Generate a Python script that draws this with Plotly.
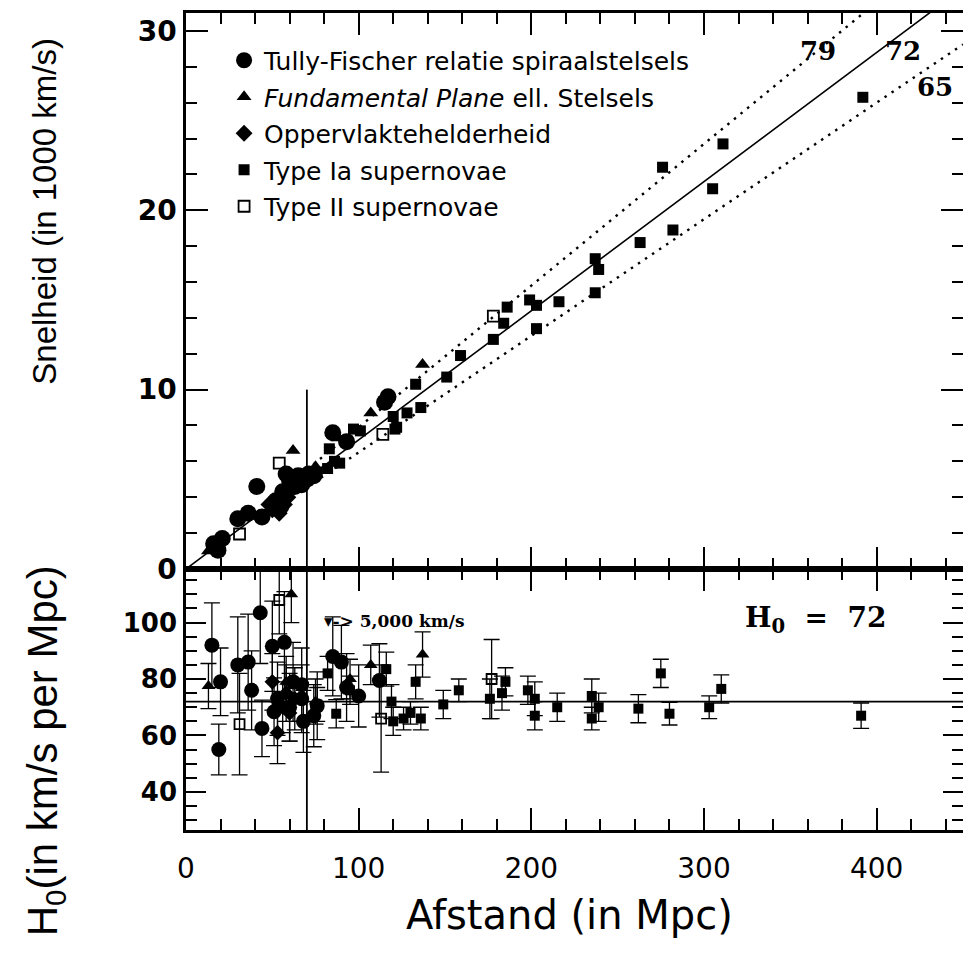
import plotly.graph_objects as go
from plotly.subplots import make_subplots

# ---------------- data ----------------
# upper panel: distance (Mpc) and velocity (1000 km/s)
tf_d = [16, 21, 18.5, 30, 36, 44, 41, 52, 55, 56, 58, 60, 63, 65, 67, 70, 71, 74, 85, 93, 115, 117]
tf_v = [1.4, 1.7, 1.05, 2.8, 3.1, 2.9, 4.6, 3.8, 3.5, 4.3, 5.3, 4.9, 4.6, 5.2, 4.7, 5.0, 5.3, 5.2, 7.6, 7.1, 9.3, 9.6]
fp_d = [13, 62, 75, 88, 107, 137]
fp_v = [1.0, 6.6, 5.7, 7.3, 8.7, 11.4]
sbf_d = [48, 50, 54, 57, 59, 61]
sbf_v = [3.6, 3.3, 3.1, 3.6, 4.0, 4.5]
sn1a_d = [76, 82, 83, 86, 89, 97, 101, 121, 120, 122, 128, 133, 136, 151, 159, 178, 184, 186,
          199, 203, 203, 216, 237, 239, 237, 263, 276, 282, 305, 311, 392]
sn1a_v = [5.4, 5.6, 6.7, 6.0, 5.9, 7.8, 7.7, 7.8, 8.5, 7.9, 8.7, 10.3, 9.0, 10.7, 11.9, 12.8, 13.7, 14.6,
          15.0, 14.7, 13.4, 14.9, 17.3, 16.7, 15.4, 18.2, 22.4, 18.9, 21.2, 23.7, 26.3]
sn2_d = [31, 54, 114, 178]
sn2_v = [1.95, 5.9, 7.5, 14.1]

# lower panel: distance (Mpc), H0 and its error
tf_hd = [15, 20, 19, 30, 36, 38, 44, 43, 50, 57, 53, 51, 62, 67, 68, 74, 76, 67, 85, 90, 93, 100, 112, 60]
tf_h = [92, 79, 55, 85, 86, 76, 62.5, 103.5, 91.6, 93, 73, 68.4, 79, 78, 65, 67, 70.5, 73, 88, 86, 77, 74, 79.5, 70]
tf_he = [15, 12, 9, 17, 17, 14, 10, 18, 16, 18, 13, 12, 14, 13, 11, 11, 12, 12, 14, 13, 12, 11, 13, 12]
fp_hd = [13, 61, 58, 75, 95, 107, 137]
fp_h = [77.5, 110, 79, 72, 80, 85, 88.7]
fp_he = [8, 10, 9, 8, 7, 7, 8]
sbf_hd = [50, 53, 56, 58, 60, 63]
sbf_h = [79, 61, 70, 75, 68, 73]
sbf_he = [10, 11, 9, 10, 10, 11]
sn1a_hd = [76, 82, 87, 95, 116, 119, 120, 126, 130, 133, 136, 149, 158, 176, 183, 185, 198, 202, 202,
           215, 235, 239, 235, 262, 275, 280, 303, 310, 391]
sn1a_h = [71, 82, 67.7, 76, 83.5, 72, 65, 66, 68, 79, 66, 71, 76, 73, 75, 79, 76, 73, 67,
          70, 74, 70, 66, 69.5, 82, 67.7, 70, 76.5, 67]
sn1a_he = [6, 6, 5, 5, 6, 6, 5, 4, 4, 6, 4, 5, 4, 7, 6, 5, 5, 6, 5,
           5, 6, 5, 4, 5, 5, 4, 4, 5, 4.5]
sn2_hd = [31, 54, 113, 177]
sn2_h = [64, 108, 66, 80]
sn2_he = [18, 12, 19, 14]

hubble_values = [79, 72, 65]
h0_fit = 72
d_range = [0, 450]
d_cut = 70
labels = ["Tully-Fischer relatie spiraalstelsels",
          "<i>Fundamental Plane</i> ell. Stelsels",
          "Oppervlaktehelderheid",
          "Type Ia supernovae",
          "Type II supernovae"]

# ---------------- figure ----------------
fig = make_subplots(rows=2, cols=1, shared_xaxes=True, vertical_spacing=0,
                    row_heights=[558, 262])

styles = [
    dict(symbol="circle", up=17, lo=15, lw=0),
    dict(symbol="triangle-up", up=13, lo=12, lw=0),
    dict(symbol="diamond", up=13, lo=12, lw=0),
    dict(symbol="square", up=11, lo=10, lw=0),
    dict(symbol="square-open", up=11, lo=10, lw=1.8),
]
up_sets = [(tf_d, tf_v), (fp_d, fp_v), (sbf_d, sbf_v), (sn1a_d, sn1a_v), (sn2_d, sn2_v)]
lo_sets = [(tf_hd, tf_h, tf_he), (fp_hd, fp_h, fp_he), (sbf_hd, sbf_h, sbf_he),
           (sn1a_hd, sn1a_h, sn1a_he), (sn2_hd, sn2_h, sn2_he)]

# model lines (upper)
for hv in hubble_values:
    start = 0 if hv == h0_fit else d_cut
    xs = [start, d_range[1]]
    ys = [hv * x / 1000 for x in xs]
    fig.add_trace(go.Scatter(x=xs, y=ys, mode="lines", showlegend=False, hoverinfo="skip",
                             line=dict(color="black", width=1.6 if hv == h0_fit else 2.4,
                                       dash="solid" if hv == h0_fit else "2.5px,6px")), row=1, col=1)
# H0 line (lower)
fig.add_trace(go.Scatter(x=d_range, y=[h0_fit, h0_fit], mode="lines", showlegend=False,
                         hoverinfo="skip", line=dict(color="black", width=1.8)), row=2, col=1)

for i, (lo, st) in enumerate(zip(lo_sets, styles)):
    fig.add_trace(go.Scatter(x=lo[0], y=lo[1], mode="markers", showlegend=False,
                             error_y=dict(type="data", array=lo[2], color="black", thickness=1.3, width=8),
                             marker=dict(symbol=st["symbol"], size=st["lo"], color="black",
                                         line=dict(color="black", width=st["lw"]))), row=2, col=1)

for i, (up, st) in enumerate(zip(up_sets, styles)):
    fig.add_trace(go.Scatter(x=up[0], y=up[1], mode="markers", name=labels[i],
                             legendgroup=f"g{i}",
                             marker=dict(symbol=st["symbol"], size=st["up"], color="black",
                                         line=dict(color="black", width=st["lw"]))), row=1, col=1)

axis_common = dict(showline=True, linecolor="black", linewidth=2.5, mirror="ticks",
                   ticks="inside", tickcolor="black", tickwidth=2, showgrid=False, zeroline=False)

fig.update_xaxes(range=d_range, dtick=100, tick0=0, ticklen=22,
                 minor=dict(dtick=20, ticks="inside", ticklen=11, tickcolor="black", tickwidth=1.6),
                 **axis_common)
fig.update_xaxes(showticklabels=False, row=1, col=1)
fig.update_xaxes(showticklabels=True, ticklabelstandoff=12,
                 tickfont=dict(family="DejaVu Sans", size=28, color="black"), row=2, col=1)
fig.update_yaxes(range=[0, 31], dtick=10, tick0=0, ticklen=22,
                 minor=dict(dtick=2, ticks="inside", ticklen=11, tickcolor="black", tickwidth=1.6),
                 ticklabelstandoff=1,
                 tickfont=dict(family="DejaVu Sans", size=28, color="black", weight="bold"),
                 row=1, col=1, **axis_common)
fig.update_yaxes(range=[26.5, 119], dtick=20, tick0=0, ticklen=20,
                 minor=dict(dtick=5, ticks="inside", ticklen=11, tickcolor="black", tickwidth=1.6),
                 ticklabelstandoff=1,
                 tickfont=dict(family="DejaVu Sans", size=26, color="black", weight="bold"),
                 row=2, col=1, **axis_common)

# vertical line at 5,000 km/s distance
fig.add_shape(type="line", x0=d_cut, x1=d_cut, y0=0, y1=10, xref="x", yref="y",
              line=dict(color="black", width=1.8))
fig.add_shape(type="line", x0=d_cut, x1=d_cut, y0=0, y1=1, xref="x2", yref="y2 domain",
              line=dict(color="black", width=1.8))

ann_font = dict(family="DejaVu Serif", size=26, color="black", weight="bold")
fig.add_annotation(x=366, y=28.9, xref="x", yref="y", text="79", showarrow=False, font=ann_font)
fig.add_annotation(x=415, y=28.9, xref="x", yref="y", text="72", showarrow=False, font=ann_font)
fig.add_annotation(x=434, y=26.9, xref="x", yref="y", text="65", showarrow=False, font=ann_font)
fig.add_annotation(x=365, y=101, xref="x2", yref="y2", text="H<sub>0</sub>  =  72", showarrow=False,
                   font=dict(family="DejaVu Serif", size=28, color="black", weight="bold"))
fig.add_annotation(x=79, y=100.4, xref="x2", yref="y2", xanchor="left", yanchor="middle",
                   text="▾-> 5,000 km/s", showarrow=False,
                   font=dict(family="DejaVu Serif", size=17, color="black", weight="bold"))

# axis titles
fig.add_annotation(x=-0.1815, y=0.758, xref="paper", yref="paper", xanchor="center", yanchor="middle",
                   text="Snelheid (in 1000 km/s)", textangle=-90, showarrow=False,
                   font=dict(family="Liberation Sans Narrow, Liberation Sans", size=33, color="black"))
fig.add_annotation(x=-0.1815, y=0.0976, xref="paper", yref="paper", xanchor="center", yanchor="middle",
                   text="H<sub>0</sub>(in km/s per Mpc)", textangle=-90, showarrow=False,
                   font=dict(family="Liberation Sans Narrow, Liberation Sans", size=42, color="black"))
fig.add_annotation(x=0.494, y=-0.1037, xref="paper", yref="paper", xanchor="center", yanchor="middle",
                   text="Afstand (in Mpc)", showarrow=False,
                   font=dict(family="DejaVu Sans", size=40, color="black"))

# page body adds an 8 px offset: compensate in the margins
fig.update_layout(
    width=971, height=956, margin=dict(l=178, r=16, t=2, b=134),
    paper_bgcolor="white", plot_bgcolor="white",
    legend=dict(x=0.049, y=0.970, xanchor="left", yanchor="top", bgcolor="rgba(0,0,0,0)",
                font=dict(family="DejaVu Sans", size=25, color="black"),
                tracegroupgap=1, itemsizing="trace"),
)

fig.write_html("out.html")
